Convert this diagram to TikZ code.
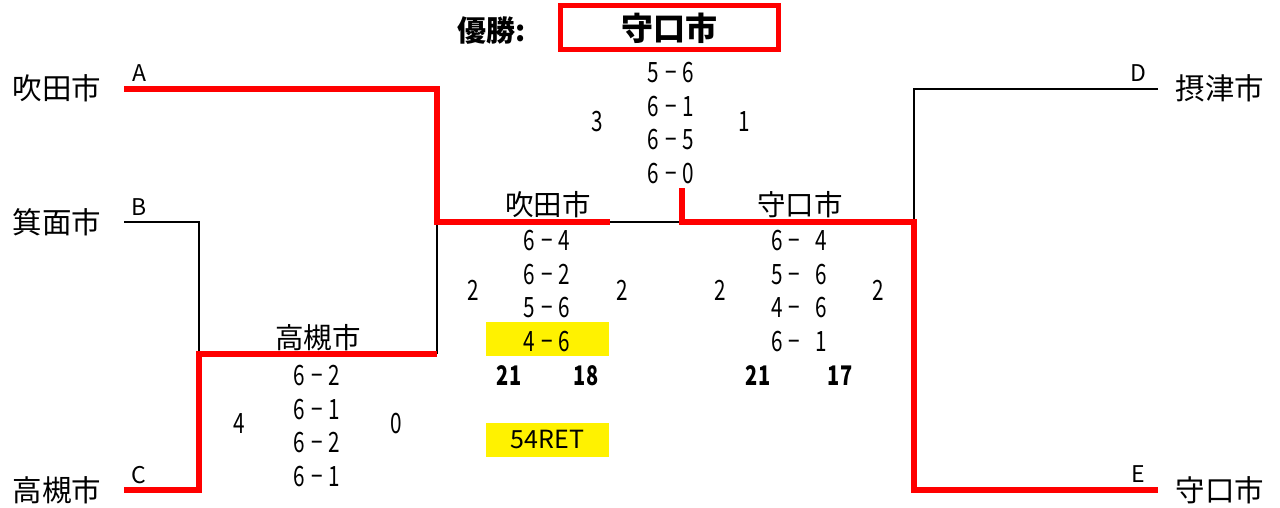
\documentclass[tikz,border=0pt]{standalone}
\usepackage{fontspec}
\setmainfont{Noto Sans CJK JP}
\newfontfamily\numfont[FakeStretch=0.74]{Noto Sans CJK JP}
\usetikzlibrary{positioning}
\newcommand\vs{\hspace{6pt}−\hspace{6pt}}
\newcommand\vsr{\hspace{6pt}−\hspace{15pt}}
\tikzstyle{team}=[font=\fontsize{29.5}{29.5}\selectfont, inner sep=0pt]
\tikzstyle{club}=[font=\fontsize{28.5}{28.5}\selectfont, inner sep=0pt]
\tikzstyle{seed}=[font=\fontsize{23}{23}\selectfont, inner sep=0pt]
\tikzstyle{score}=[font=\numfont\fontsize{28}{33.5}\selectfont, inner sep=0pt, align=center]
\tikzstyle{total}=[font=\numfont\bfseries\fontsize{27}{27}\selectfont, inner sep=0pt]
\tikzstyle{hilite}=[fill=yellow, inner sep=0pt, minimum width=123pt, minimum height=34pt]
\tikzstyle{winline}=[red, line width=6pt]
\tikzstyle{loseline}=[black, line width=1.6pt]

\begin{document}
\begin{tikzpicture}[x=1pt,y=-1pt]
\useasboundingbox (0,0) rectangle (1280,508);

% teams
\node [team] (suita) at (57,88) {吹田市};
\node [team] (minoh) at (57,222) {箕面市};
\node [team] (takaL) at (57,490) {高槻市};
\node [team] (settsu) at (1220,88) {摂津市};
\node [team] (moriR) at (1220,490) {守口市};
\node [seed] (sA) at (139,73) {A};
\node [seed] (sB) at (139,207) {B};
\node [seed] (sC) at (139,475) {C};
\node [seed] (sD) at (1138,73) {D};
\node [seed] (sE) at (1138,474) {E};

% bracket points
\coordinate (pA) at (124,89);
\coordinate (pB) at (124,222);
\coordinate (pC) at (124,490);
\coordinate (pD) at (1158,89);
\coordinate (pE) at (1158,490);
\coordinate (qf) at (199,354);
\coordinate (qfend) at (437,354);
\coordinate (sfL) at (437,222);
\coordinate (sfLend) at (610,222);
\coordinate (fin) at (682,222);
\coordinate (fintop) at (682,188);
\coordinate (sfR) at (914,222);

\draw [loseline] (pB) -| (qf);
\draw [loseline] (qfend) -- (sfL);
\draw [loseline] (sfLend) -- (fin);
\draw [loseline] (pD) -| (sfR);
\draw [winline] (pA) -| (sfL) -- (sfLend);
\draw [winline] (pC) -| (qf) -- (qfend);
\draw [winline] (fintop) -- (fin) -- (sfR) |- (pE);

% champion
\node [font=\bfseries\fontsize{29}{29}\selectfont, inner sep=0pt] (yusho) at (492,31) {優勝:};
\node [draw=red, line width=5pt, minimum width=218pt, minimum height=44pt, inner sep=0pt,
       font=\bfseries\fontsize{32}{32}\selectfont] (champ) at (669,28) {守口市};

% final
\node [score] (fsc) at (671,123) {5\vs 6\\6\vs 1\\6\vs 5\\6\vs 0};
\node [score] (fl) at (597,122) {3};
\node [score] (fr) at (744,122) {1};

% semifinal left
\node [club] (sfLname) at (548,205) {吹田市};
\node [hilite] (sfLhl) at (547.5,339) {};
\node [score] (sfLsc) at (547,291) {6\vs 4\\6\vs 2\\5\vs 6\\4\vs 6};
\node [score] (sfLl) at (473,290) {2};
\node [score] (sfLr) at (622,290) {2};
\node [total] (sfLt1) at (509,376) {21};
\node [total] (sfLt2) at (586,376) {18};
\node [hilite, score, font=\fontsize{25}{25}\selectfont] (ret) at (547.5,439.5) {54RET};

% semifinal right
\node [club] (sfRname) at (800,205) {守口市};
\node [score] (sfRsc) at (799,291) {6\vsr 4\\5\vsr 6\\4\vsr 6\\6\vsr 1};
\node [score] (sfRl) at (720,290) {2};
\node [score] (sfRr) at (878,290) {2};
\node [total] (sfRt1) at (758,376) {21};
\node [total] (sfRt2) at (840,376) {17};

% quarterfinal
\node [club] (qfname) at (318,338) {高槻市};
\node [score] (qfsc) at (317,426) {6\vs 2\\6\vs 1\\6\vs 2\\6\vs 1};
\node [score] (qfl) at (239,424) {4};
\node [score] (qfr) at (396,424) {0};
\end{tikzpicture}
\end{document}
